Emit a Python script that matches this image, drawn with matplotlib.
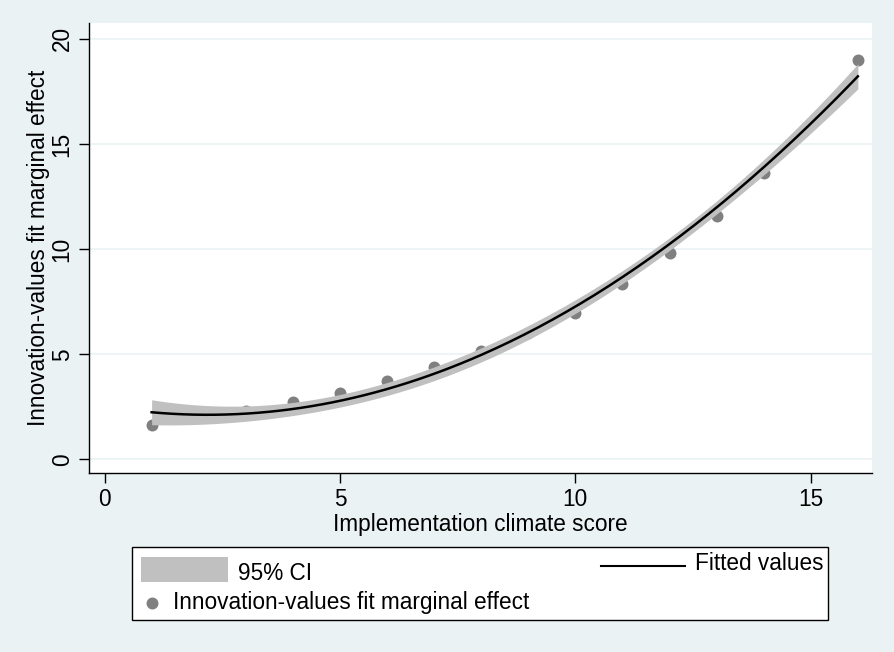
import numpy as np
import matplotlib
matplotlib.use("Agg")
import matplotlib.pyplot as plt
from matplotlib.patches import Rectangle
from matplotlib.lines import Line2D

# ---- data ----
climate_score = [1, 2, 3, 4, 5, 6, 7, 8, 9, 10, 11, 12, 13, 14, 15, 16]
marginal_effect = [1.61, 2.05, 2.3, 2.72, 3.14, 3.74, 4.4, 5.13, 6.0, 6.95,
                   8.32, 9.82, 11.56, 13.6, 16.0, 19.0]
x_ticks = [0, 5, 10, 15]
y_ticks = [0, 5, 10, 15, 20]
x_label = "Implementation climate score"
y_label = "Innovation-values fit marginal effect"
legend_labels = ["95% CI", "Fitted values", "Innovation-values fit marginal effect"]

plt.rcParams['font.family'] = ['Liberation Sans', 'DejaVu Sans']
FS = 16.3

x = np.array(climate_score, float)
y = np.array(marginal_effect, float)

# quadratic fit with 95% CI of the prediction (like Stata qfitci)
X = np.column_stack([np.ones_like(x), x, x**2])
beta, *_ = np.linalg.lstsq(X, y, rcond=None)
resid = y - X @ beta
n, p = X.shape
s2 = resid @ resid / (n - p)
XtX_inv = np.linalg.inv(X.T @ X)
xg = np.linspace(x.min(), x.max(), 200)
Xg = np.column_stack([np.ones_like(xg), xg, xg**2])
yg = Xg @ beta
se = np.sqrt(s2 * np.einsum('ij,jk,ik->i', Xg, XtX_inv, Xg))
tcrit = 2.160  # t(0.975, 13)
lo, hi = yg - tcrit * se, yg + tcrit * se

bg = '#EAF2F3'
band = '#C0C0C0'
dot = '#808080'
W, H = 895, 652
fig = plt.figure(figsize=(8.95, 6.52), dpi=100, facecolor=bg)


def fx(px):
    return px / W


def fy(py):
    return 1 - py / H


ax = fig.add_axes([fx(89), fy(473), (872 - 89) / W, (473 - 23) / H])
ax.set_facecolor('white')

ax.fill_between(xg, lo, hi, color=band, lw=0, zorder=2)
ax.scatter(x, y, s=74, color=dot, zorder=1.5, linewidths=0)
ax.plot(xg, yg, color='black', lw=1.8, zorder=3)

ax.set_xlim(-0.33, 16.3)
ax.set_ylim(-0.65, 20.75)
ax.set_xticks(x_ticks)
ax.set_yticks(y_ticks)
ax.grid(axis='y', color=bg, lw=1.2, zorder=0)
ax.set_axisbelow(True)
for side in ['top', 'right']:
    ax.spines[side].set_visible(False)
for side in ['left', 'bottom']:
    ax.spines[side].set_color('black')
    ax.spines[side].set_linewidth(1.0)
ax.tick_params(axis='both', direction='out', length=7, width=1, labelsize=FS, pad=4)
for lab in ax.get_yticklabels():
    lab.set_rotation(90)
    lab.set_va('center')
ax.set_xlabel(x_label, fontsize=FS, labelpad=1)
ax.set_ylabel(y_label, fontsize=FS, labelpad=0.5)

# ---- legend (Stata-style layout) ----
fig.add_artist(Rectangle((fx(131.5), fy(620)), (828.5 - 131.5) / W, (620 - 546.7) / H,
                         transform=fig.transFigure, facecolor='white',
                         edgecolor='black', lw=1.0))
fig.add_artist(Rectangle((fx(141), fy(581.7)), (227.7 - 141) / W, (581.7 - 557.3) / H,
                         transform=fig.transFigure, facecolor=band, edgecolor='none'))
fig.text(fx(237.5), fy(579.5), legend_labels[0], fontsize=FS, va='baseline', ha='left')
fig.add_artist(Line2D([fx(600.7), fx(685)], [fy(566), fy(566)],
                      transform=fig.transFigure, color='black', lw=1.5))
fig.text(fx(695), fy(570.5), legend_labels[1], fontsize=FS, va='baseline', ha='left')
fig.add_artist(Line2D([fx(152.3)], [fy(603.3)], transform=fig.transFigure,
                      marker='o', ms=8.6, mec='none', mfc=dot, ls='none'))
fig.text(fx(173), fy(608.5), legend_labels[2], fontsize=FS, va='baseline', ha='left')

fig.savefig('out.png', dpi=100, facecolor=bg)
